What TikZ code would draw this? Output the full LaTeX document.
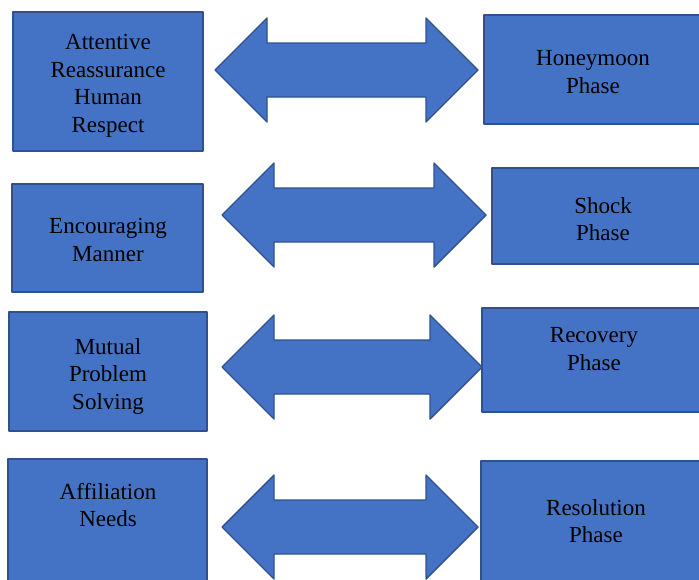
\documentclass[tikz,border=0pt]{standalone}
\usepackage{fontspec}
\setmainfont{Liberation Serif}
\definecolor{boxfill}{HTML}{4472C4}
\definecolor{boxline}{HTML}{2F528F}
\begin{document}
\begin{tikzpicture}[x=1pt,y=-1pt,line join=round,
  box/.style={draw=boxline,fill=boxfill,line width=1.4pt,inner sep=0pt},
  txt/.style={align=center,inner sep=0pt,font=\fontsize{23}{27.5}\selectfont},
  dblarrow/.style={draw=boxline,fill=boxfill,line width=1.4pt}]
\useasboundingbox (0,0) rectangle (699,579);
\def\hl{52} \def\hh{52} \def\sh{27}
% left column
\node[box,minimum width=190pt,minimum height=139pt] (attentive) at (108,81.5) {};
\node[box,minimum width=191pt,minimum height=108pt] (encouraging) at (107.5,238) {};
\node[box,minimum width=198pt,minimum height=119pt] (mutual) at (108,371.5) {};
\node[box,minimum width=199pt,minimum height=122pt] (affiliation) at (107.5,520) {};
\node[txt] (attentive-t) at (108,86) {Attentive\\Reassurance\\Human\\Respect};
\node[txt] (encouraging-t) at (108,240) {Encouraging\\Manner};
\node[txt] (mutual-t) at (108,376) {Mutual\\Problem\\Solving};
\node[txt] (affiliation-t) at (108,505) {Affiliation\\Needs};
% right column
\node[box,minimum width=217pt,minimum height=109pt] (honeymoon) at (592.5,69.5) {};
\node[box,minimum width=209pt,minimum height=96pt] (shock) at (596.5,216) {};
\node[box,minimum width=219pt,minimum height=104pt] (recovery) at (591.5,360) {};
\node[box,minimum width=220pt,minimum height=120pt] (resolution) at (591,521) {};
\node[txt] (honeymoon-t) at (593,72) {Honeymoon\\Phase};
\node[txt] (shock-t) at (603,219) {Shock\\Phase};
\node[txt] (recovery-t) at (594,349) {Recovery\\Phase};
\node[txt] (resolution-t) at (596,521) {Resolution\\Phase};
% double arrows
\foreach \l/\r/\m in {215/478/70,222/486/215,222/482/367,222/478/527}
  \draw[dblarrow] (\l,\m)--(\l+\hl,\m-\hh)--(\l+\hl,\m-\sh)--(\r-\hl,\m-\sh)--(\r-\hl,\m-\hh)--(\r,\m)
    --(\r-\hl,\m+\hh)--(\r-\hl,\m+\sh)--(\l+\hl,\m+\sh)--(\l+\hl,\m+\hh)--cycle;
\end{tikzpicture}
\end{document}
